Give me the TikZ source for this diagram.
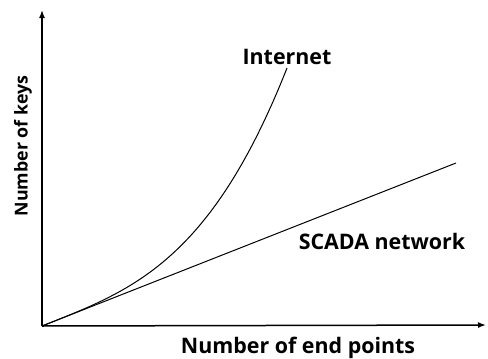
\documentclass[tikz,border=0pt]{standalone}
\usepackage{fontspec}
\setmainfont{Open Sans}
\usetikzlibrary{arrows.meta}
\begin{document}
\begin{tikzpicture}[
        x=0.5pt, y=-0.5pt,
        axis/.style={line width=0.75pt, -{Latex[length=4pt, width=3pt]}},
        curve/.style={line width=0.5pt},
        lbl/.style={font=\bfseries\fontsize{10.7}{12}\selectfont, inner sep=0pt}
    ]
        \useasboundingbox (0,0) rectangle (488,359);

        % Axes
        \coordinate (origin) at (42,326);
        \coordinate (xend) at (486,325);
        \coordinate (yend) at (42,10);
        \draw[axis] (origin) -- (xend);
        \draw[axis] (origin) -- (yend);

        % Axis titles
        \node[lbl] (xtitle) at (298,348) {Number of end points};
        \node[lbl, font=\bfseries\fontsize{8.9}{10}\selectfont, rotate=90] (ytitle) at (23,146) {Number of keys};

        % SCADA network: linear growth
        \coordinate (scadaend) at (456,163);
        \draw[curve] (origin) -- (scadaend);
        \node[lbl] (scada) at (382,241) {SCADA network};

        % Internet: faster growth
        \draw[curve] (origin) -- plot[domain=1:245, samples=60, smooth]
            ({42+\x}, {326-0.394*\x-161.5*(\x/245)^3.25}) coordinate (netend);
        \node[lbl] (internet) at (287,57) {Internet};

    \end{tikzpicture}
\end{document}
